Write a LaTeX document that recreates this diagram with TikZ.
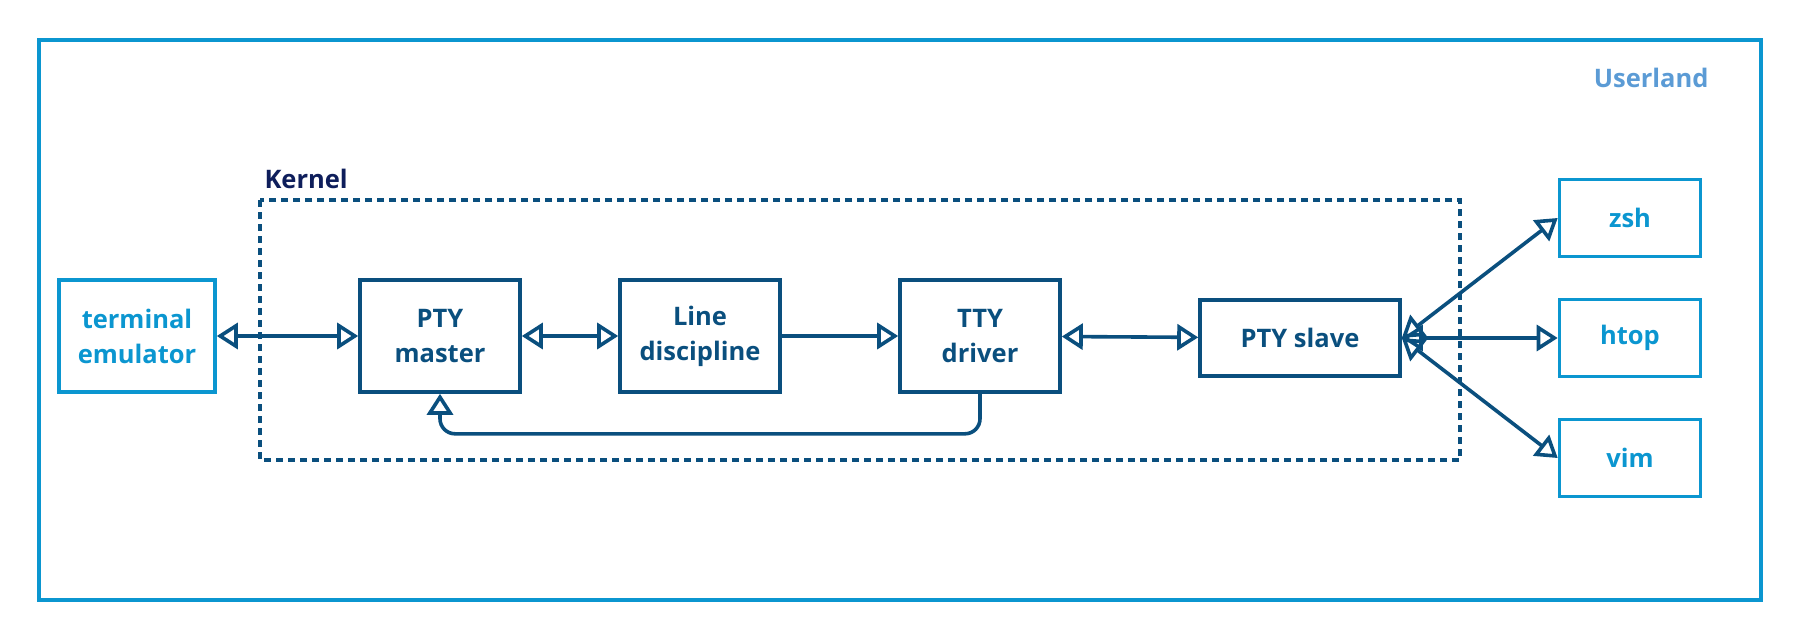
\documentclass[tikz,border=0pt]{standalone}
\usepackage{fontspec}
\setmainfont{Open Sans}
\usetikzlibrary{arrows.meta,calc}

\definecolor{ublue}{HTML}{0B96D0}
\definecolor{kblue}{HTML}{0A4F7E}
\definecolor{knavy}{HTML}{0E1E5B}
\definecolor{ltext}{HTML}{5B9BD5}

\begin{document}
\begin{tikzpicture}[x=1pt,y=-1pt,
    kbox/.style={draw=kblue, line width=3.6pt, text=kblue, align=center,
                 minimum width=160pt, minimum height=112pt, inner sep=0pt},
    ubox/.style={draw=ublue, line width=3.6pt, text=ublue, align=center,
                 minimum width=141pt, minimum height=77pt, inner sep=0pt},
    link/.style={draw=kblue, line width=3.6pt,
                 >={Triangle[open, length=21pt, width=26pt, line width=3.6pt]}},
    every node/.style={font=\fontsize{25.5}{35}\selectfont\bfseries}]

    \useasboundingbox (0,0) rectangle (1800,640);

    % userland and kernel frames
    \draw [ublue, line width=3.8pt] (39,40) rectangle (1761,600);
    \node [anchor=base east, text=ltext] (userland) at (1712,87) {Userland};

    \draw [kblue, line width=3.4pt, dash pattern=on 7pt off 5pt] (260,200) rectangle (1460,460);
    \node [anchor=base west, text=knavy] (kernel) at (261,188) {Kernel};

    % boxes
    \node [ubox, minimum width=156pt, minimum height=112pt] (term) at (137,336) {terminal\\emulator};
    \node [kbox] (ptym) at (440,336) {PTY\\master};
    \node [kbox] (line) at (700,336) {Line\\discipline};
    \node [kbox] (tty) at (980,336) {TTY\\driver};
    \node [kbox, minimum width=200pt, minimum height=76pt] (ptys) at (1300,338) {PTY slave};

    \node [ubox] (zsh) at (1630,218) {zsh};
    \node [ubox] (htop) at (1630,338) {htop};
    \node [ubox] (vim) at (1630,458) {vim};

    % connectors
    \draw [link, <->] (term) -- (ptym);
    \draw [link, <->] (ptym) -- (line);
    \draw [link, ->] (line) -- (tty);
    \draw [link, <->] (tty) -- (ptys);

    \foreach \p in {zsh,htop,vim}
        \draw [link, <->] (ptys.east) -- (\p.west);

    \draw [link, ->, rounded corners=15pt] (tty.south) -- ($(tty.south)+(0,40)$) -| (ptym.south);
\end{tikzpicture}
\end{document}
